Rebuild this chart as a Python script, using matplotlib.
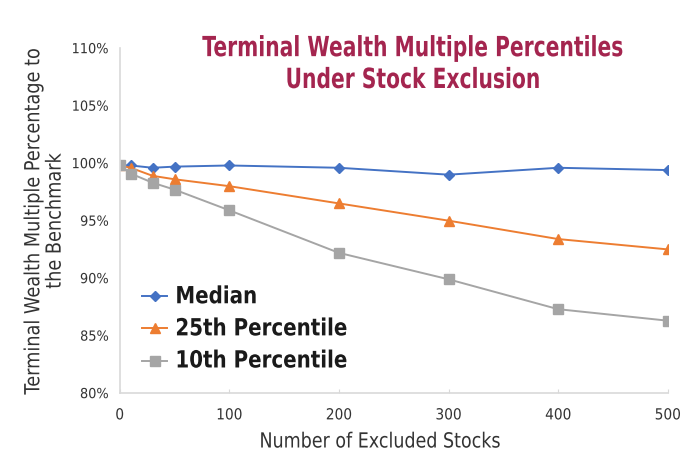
import matplotlib.pyplot as plt
import matplotlib.patheffects as pe
from matplotlib.transforms import Affine2D
from matplotlib.ticker import PercentFormatter

# data
excluded = [0, 10, 30, 50, 100, 200, 300, 400, 500]
median = [99.8, 99.8, 99.6, 99.7, 99.8, 99.6, 99.0, 99.6, 99.4]
pct25 = [99.8, 99.6, 98.9, 98.6, 98.0, 96.5, 95.0, 93.4, 92.5]
pct10 = [99.8, 99.1, 98.3, 97.7, 95.9, 92.2, 89.9, 87.3, 86.3]


# no condensed font installed: use a smaller size and stretch the glyphs up
# from the baseline, which looks like a narrow face
class Stretch(pe.AbstractPathEffect):
    def __init__(self, sy):
        super().__init__()
        self.sy = sy

    def draw_path(self, renderer, gc, tpath, affine, rgbFace=None):
        renderer.draw_path(gc, tpath, Affine2D().scale(1, self.sy) + affine, rgbFace)


plt.rcParams['font.family'] = ['DejaVu Sans']

fig = plt.figure(figsize=(7, 4.68), dpi=100)
ax = fig.add_axes([0.171, 0.160, 0.783, 0.737])

ax.plot(excluded, median, color='#4472C4', marker='D', markersize=5, lw=1.4, label='Median')
ax.plot(excluded, pct25, color='#ED7D31', marker='^', markersize=7, lw=1.4, label='25th Percentile')
ax.plot(excluded, pct10, color='#A5A5A5', marker='s', markersize=6.5, lw=1.4, label='10th Percentile')

ax.set_xlim(0, 500)
ax.set_ylim(80, 110)
ax.set_xticks([0, 100, 200, 300, 400, 500])
ax.set_yticks([80, 85, 90, 95, 100, 105, 110])
ax.yaxis.set_major_formatter(PercentFormatter(decimals=0))
ax.tick_params(axis='y', labelsize=9.3, labelcolor='#333333', length=0, pad=8)
ax.tick_params(axis='x', labelsize=9.9, labelcolor='#333333', direction='in',
               length=3, color='#d9d9d9', pad=11)
for lab in ax.get_yticklabels():
    lab.set_path_effects([Stretch(1.075)])
for lab in ax.get_xticklabels():
    lab.set_path_effects([Stretch(1.11)])

for s in ['top', 'right']:
    ax.spines[s].set_visible(False)
for s in ['left', 'bottom']:
    ax.spines[s].set_color('#d9d9d9')
    ax.spines[s].set_linewidth(1.2)

xl = ax.set_xlabel('Number of Excluded Stocks', fontsize=12.6, color='#333333', labelpad=8)
xl.set_x(0.476)
xl.set_path_effects([Stretch(1.19)])
yl = ax.set_ylabel('Terminal Wealth Multiple Percentage to\nthe Benchmark', fontsize=12.75,
                   color='#333333', linespacing=1.24, labelpad=5)
yl.set_path_effects([Stretch(1.176)])

title_lines = ['Terminal Wealth Multiple Percentiles', 'Under Stock Exclusion']
for ty, line in zip([0.880, 0.812], title_lines):
    t = fig.text(0.590, ty, line, ha='center', va='baseline', fontsize=14.6,
                 fontweight='bold', color='#A4254F')
    t.set_path_effects([Stretch(1.37)])

leg = ax.legend(loc='upper left', bbox_to_anchor=(0.040, 0.304), frameon=False,
                prop={'size': 14.3, 'weight': 'bold'}, handlelength=1.3,
                handletextpad=0.4, labelspacing=0.66, borderpad=0, borderaxespad=0,
                labelcolor='#1a1a1a')
for t in leg.get_texts():
    t.set_path_effects([Stretch(1.19)])

fig.savefig('out.png', dpi=100)
